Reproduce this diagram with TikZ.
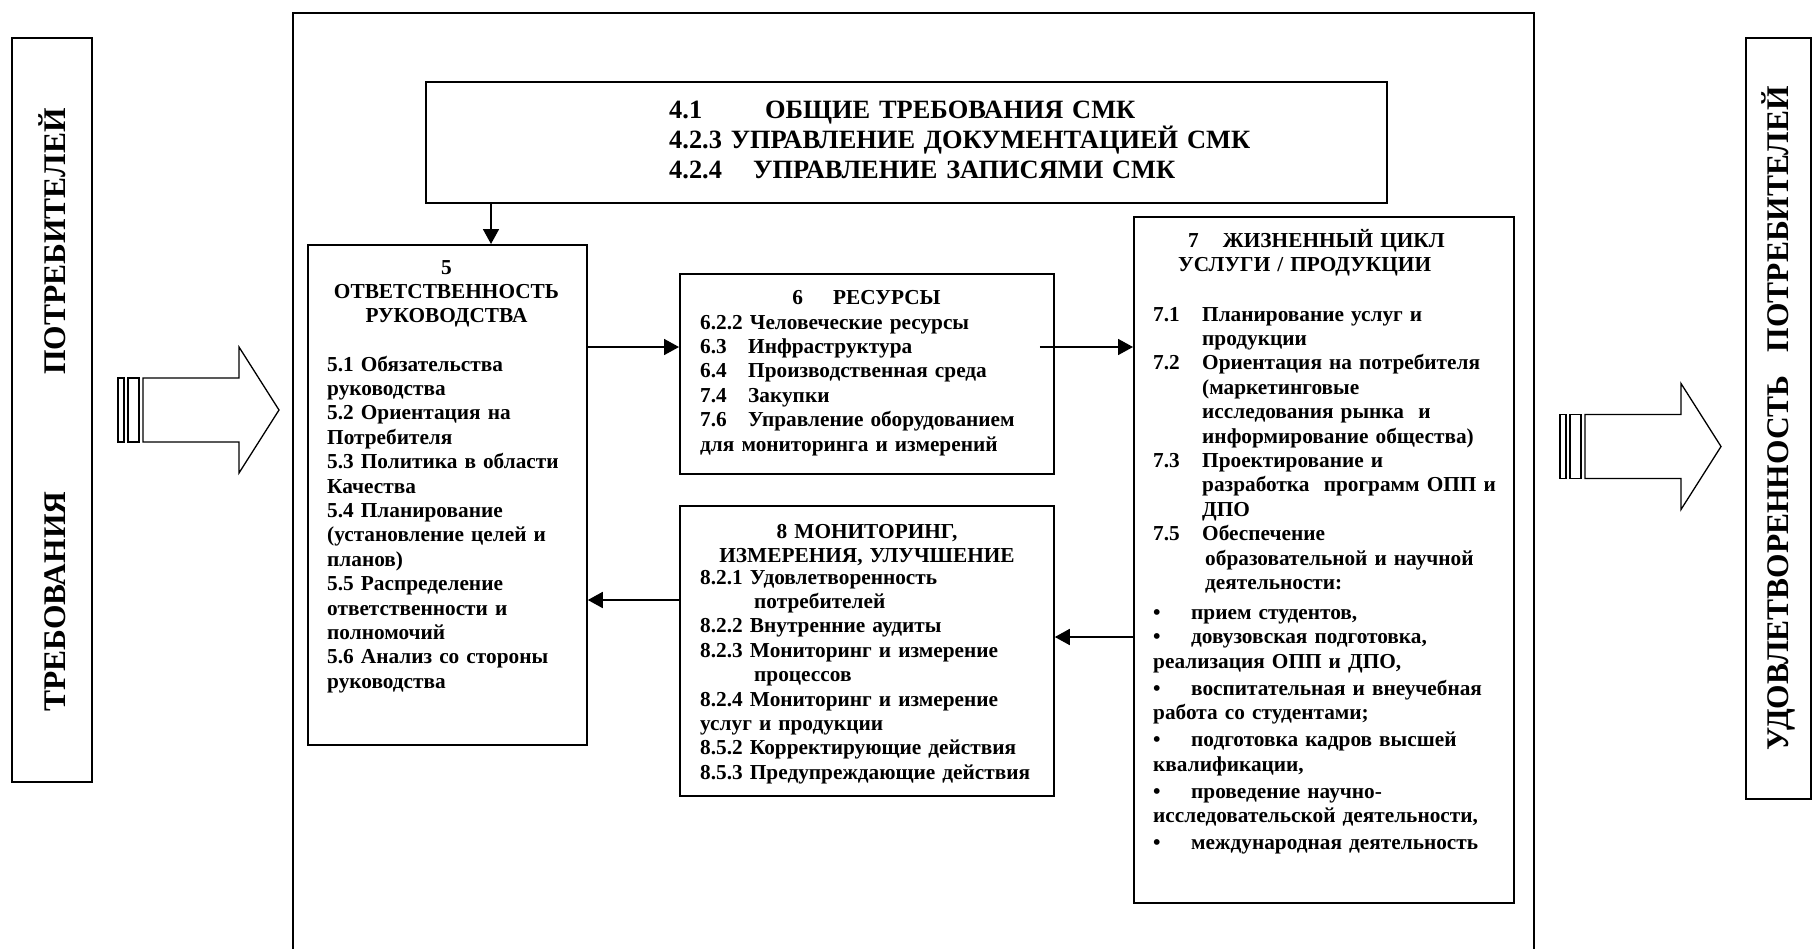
\documentclass[tikz,border=0pt]{standalone}
\usepackage{fontspec}
\setmainfont{Liberation Serif}
\usepackage{xcolor}
\usepackage{tikz}
\usetikzlibrary{arrows.meta,calc}

\begin{document}
\begin{tikzpicture}[
        x=1pt, y=-1pt,
        frame/.style={rectangle, draw=black, line width=1.8pt, inner sep=0pt, anchor=north west},
        sidebox/.style={rectangle, draw=black, line width=1.8pt, inner sep=0pt, rotate=90, font=\fontsize{31.5}{36}\selectfont\bfseries},
        ttl/.style={inner sep=0pt, anchor=base, align=center, text width=#1, font=\fontsize{21.3}{24.4}\selectfont\bfseries},
        itemtext/.style={inner sep=0pt, anchor=base west, align=left, text width=#1, font=\fontsize{21.3}{24.4}\selectfont\bfseries},
        conn/.style={-{Triangle[length=15pt, width=16pt]}, line width=1.8pt},
        bigarrow/.style={draw=black, line width=1.3pt, fill=white}
    ]
        \useasboundingbox (0,0) rectangle (1812,948);

        % Outer frame (bottom edge runs off the page)
        \node[frame, minimum width=1241pt, minimum height=960pt] (qm_system) at (292,12) {};

        % Customer side
        \node[sidebox, minimum width=744pt, minimum height=80pt] (cust_req) at (52,410) {ТРЕБОВАНИЯ\hspace{117pt}ПОТРЕБИТЕЛЕЙ};
        \node[sidebox, minimum width=761pt, minimum height=65pt] (cust_sat) at (1778.5,418.5) {УДОВЛЕТВОРЕННОСТЬ\hspace{23pt}ПОТРЕБИТЕЛЕЙ};

        % Striped block arrows
        \foreach \ax/\ay in {118/410, 1560/446.5} {
            \draw[bigarrow] (\ax,\ay-32) rectangle ++(6,64);
            \draw[bigarrow] (\ax+10,\ay-32) rectangle ++(11,64);
            \draw[bigarrow] (\ax+25,\ay-32) -- ++(96,0) -- ++(0,-31) -- ++(40,63) -- ++(-40,63) -- ++(0,-31) -- ++(-96,0) -- cycle;
        }

        % General requirements
        \node[frame, minimum width=961pt, minimum height=121pt] (general) at (425,81) {};
        \node[itemtext=700pt, font=\fontsize{26.4}{30.4}\selectfont\bfseries] (general_text) at (669,118) {\makebox[96pt][l]{4.1}ОБЩИЕ ТРЕБОВАНИЯ СМК\\4.2.3 УПРАВЛЕНИЕ ДОКУМЕНТАЦИЕЙ СМК\\\makebox[84pt][l]{4.2.4}УПРАВЛЕНИЕ ЗАПИСЯМИ СМК};

        % Management responsibility
        \node[frame, minimum width=279pt, minimum height=500pt] (resp) at (307,244) {};
        \node[ttl=260pt] (resp_title) at (446.5,274) {5\\ОТВЕТСТВЕННОСТЬ\\РУКОВОДСТВА};
        \node[itemtext=250pt] (resp_list) at (327,371) {5.1 Обязательства\\руководства\\5.2 Ориентация на\\Потребителя\\5.3 Политика в области\\Качества\\5.4 Планирование\\(установление целей и\\планов)\\5.5 Распределение\\ответственности и\\полномочий\\5.6 Анализ со стороны\\руководства};

        % Resources
        \node[frame, minimum width=374pt, minimum height=200pt] (res) at (679,273) {};
        \node[ttl=340pt] (res_title) at (866.5,304) {6\hspace{30pt}РЕСУРСЫ};
        \node[itemtext=345pt] (res_list) at (700,329) {6.2.2 Человеческие ресурсы\\\makebox[48pt][l]{6.3}Инфраструктура\\\makebox[48pt][l]{6.4}Производственная среда\\\makebox[48pt][l]{7.4}Закупки\\\makebox[48pt][l]{7.6}Управление оборудованием\\для мониторинга и измерений};

        % Monitoring
        \node[frame, minimum width=374pt, minimum height=290pt] (mon) at (679,505) {};
        \node[ttl=340pt] (mon_title) at (867,538) {8 МОНИТОРИНГ,\\ИЗМЕРЕНИЯ, УЛУЧШЕНИЕ};
        \node[itemtext=345pt] (mon_list) at (700,584) {8.2.1 Удовлетворенность\\\hspace*{54pt}потребителей\\8.2.2 Внутренние аудиты\\8.2.3 Мониторинг и измерение\\\hspace*{54pt}процессов\\8.2.4 Мониторинг и измерение\\услуг и продукции\\8.5.2 Корректирующие действия\\8.5.3 Предупреждающие действия};

        % Life cycle
        \node[frame, minimum width=380pt, minimum height=686pt] (life) at (1133,216) {};
        \node[itemtext=320pt] (life_title) at (1178,247) {\hspace*{10pt}7\hspace{24pt}ЖИЗНЕННЫЙ ЦИКЛ\\УСЛУГИ / ПРОДУКЦИИ};
        \node[itemtext=355pt] (life_list) at (1153,321) {\makebox[49pt][l]{7.1}Планирование услуг и\\\hspace*{49pt}продукции\\\makebox[49pt][l]{7.2}Ориентация на потребителя\\\hspace*{49pt}(маркетинговые\\\hspace*{49pt}исследования рынка\ \ и\\\hspace*{49pt}информирование общества)\\\makebox[49pt][l]{7.3}Проектирование и\\\hspace*{49pt}разработка\ \ программ ОПП и\\\hspace*{49pt}ДПО\\\makebox[49pt][l]{7.5}Обеспечение\\\hspace*{52pt}образовательной и научной\\\hspace*{52pt}деятельности:\\[5.6pt]\makebox[38pt][l]{•}прием студентов,\\\makebox[38pt][l]{•}довузовская подготовка,\\реализация ОПП и ДПО,\\[2.6pt]\makebox[38pt][l]{•}воспитательная и внеучебная\\работа со студентами;\\[2.6pt]\makebox[38pt][l]{•}подготовка кадров высшей\\квалификации,\\[2.6pt]\makebox[38pt][l]{•}проведение научно-\\исследовательской деятельности,\\[2.6pt]\makebox[38pt][l]{•}международная деятельность};

        % Connections
        \coordinate (row_a) at (0,347);
        \coordinate (row_b) at (0,600);
        \coordinate (row_c) at (0,637);
        \coordinate (col_a) at (491,0);
        \draw[conn] (general.south -| col_a) -- (resp.north -| col_a);
        \draw[conn] (resp.east |- row_a) -- (res.west |- row_a);
        \draw[conn] ($(res.east |- row_a)+(-15,0)$) -- (life.west |- row_a);
        \draw[conn] (life.west |- row_c) -- (mon.east |- row_c);
        \draw[conn] (mon.west |- row_b) -- (resp.east |- row_b);

    \end{tikzpicture}
\end{document}
